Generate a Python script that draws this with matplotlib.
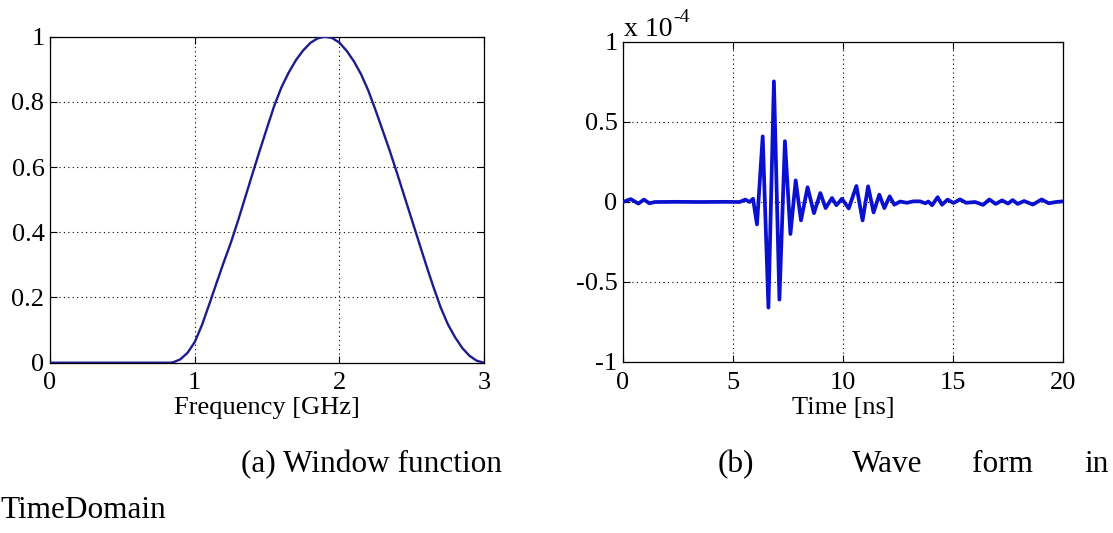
import matplotlib
matplotlib.use('Agg')
import matplotlib.pyplot as plt

# ---- data ----
# (a) window function
freq_ghz = [0.0, 0.5, 0.83, 0.85, 0.9, 0.95, 1.0, 1.05, 1.1, 1.15, 1.2, 1.25, 1.3,
            1.35, 1.4, 1.45, 1.5, 1.55, 1.6, 1.65, 1.7, 1.75, 1.8, 1.85, 1.9,
            1.95, 2.0, 2.05, 2.1, 2.15, 2.2, 2.25, 2.3, 2.35, 2.4, 2.45, 2.5,
            2.55, 2.6, 2.65, 2.7, 2.75, 2.8, 2.85, 2.9, 2.95, 3.0]
window = [0.0, 0.0, 0.0, 0.001, 0.01, 0.03, 0.063, 0.115, 0.178, 0.243, 0.307, 0.368, 0.436,
          0.508, 0.58, 0.651, 0.72, 0.788, 0.845, 0.89, 0.928, 0.958, 0.981, 0.995, 1.0,
          0.996, 0.982, 0.957, 0.925, 0.885, 0.835, 0.775, 0.712, 0.648, 0.58, 0.51, 0.44,
          0.37, 0.3, 0.233, 0.17, 0.118, 0.078, 0.045, 0.021, 0.006, 0.0]

# (b) wave form in time domain (amplitude in units of 1e-4)
time_ns = [0.0, 0.35, 0.7, 0.95, 1.2, 1.45, 2.5, 3.5, 4.5, 5.3, 5.56, 5.75, 5.91,
           6.09, 6.35, 6.61, 6.86, 7.11, 7.36, 7.61, 7.85, 8.09, 8.39, 8.68,
           8.97, 9.21, 9.5, 9.7, 9.95, 10.26, 10.61, 10.89, 11.14, 11.39, 11.65,
           11.88, 12.12, 12.33, 12.6, 12.9, 13.2, 13.5, 13.74, 13.88, 14.05, 14.3,
           14.5, 14.75, 15.02, 15.32, 15.6, 16.0, 16.37, 16.65, 16.94, 17.23,
           17.5, 17.71, 17.94, 18.23, 18.63, 19.03, 19.35, 19.68, 20.0]
wave_e4 = [0.0, 0.018, -0.01, 0.015, -0.008, 0.0, 0.001, 0.0, 0.001, 0.0, 0.015, 0.0, 0.02,
           -0.14, 0.41, -0.66, 0.754, -0.61, 0.38, -0.20, 0.135, -0.115, 0.092, -0.07,
           0.056, -0.038, 0.025, -0.02, 0.02, -0.04, 0.10, -0.115, 0.098, -0.065, 0.046,
           -0.038, 0.035, -0.017, 0.003, -0.005, 0.004, 0.004, -0.008, 0.003, -0.02, 0.03,
           -0.017, 0.015, -0.006, 0.016, -0.005, 0.0, -0.018, 0.016, -0.012, 0.01,
           -0.01, 0.012, -0.012, 0.006, -0.016, 0.016, -0.008, 0.0, 0.004]

win_xticks = [0, 1, 2, 3]
win_yticks = [0, 0.2, 0.4, 0.6, 0.8, 1]
win_yticklabels = ['0', '0.2', '0.4', '0.6', '0.8', '1']
wave_xticks = [0, 5, 10, 15, 20]
wave_yticks = [-1, -0.5, 0, 0.5, 1]
wave_yticklabels = ['-1', '-0.5', '0', '0.5', '1']

plt.rcParams['font.family'] = ['Liberation Serif', 'DejaVu Serif']
plt.rcParams['axes.unicode_minus'] = False

W, H = 1113, 533
fig = plt.figure(figsize=(W / 100, H / 100), dpi=100)


def px_rect(x0, y0, x1, y1):
    # pixel box (top-left origin) -> figure fraction rect
    return [x0 / W, 1 - y1 / H, (x1 - x0) / W, (y1 - y0) / H]


def style_axes(ax):
    ax.tick_params(direction='in', top=True, right=True, length=5, width=0.8,
                   labelsize=19, colors='black')
    ax.tick_params(axis='x', pad=7)
    ax.tick_params(axis='y', pad=4)
    ax.grid(True, linestyle=(0, (1, 3)), color='black', linewidth=0.8)
    for s in ax.spines.values():
        s.set_linewidth(0.9)
        s.set_color('black')


ax1 = fig.add_axes(px_rect(50, 36.7, 484, 362.7))
ax1.plot(freq_ghz, window, color='#1c1c8c', linewidth=1.7, zorder=3)
ax1.set_xlim(0, 3)
ax1.set_ylim(0, 1)
ax1.set_xticks(win_xticks)
ax1.set_yticks(win_yticks, win_yticklabels)
style_axes(ax1)
ax1.set_xlabel('Frequency [GHz]', fontsize=19)
ax1.xaxis.label.set_va('center')
ax1.xaxis.set_label_coords(0.5, (362.7 - 408) / 326)

ax2 = fig.add_axes(px_rect(623, 42, 1063, 362))
ax2.plot(time_ns, wave_e4, color='#0a10d0', linewidth=2.7, zorder=3,
         solid_joinstyle='round')
ax2.set_xlim(0, 20)
ax2.set_ylim(-1, 1)
ax2.set_xticks(wave_xticks)
ax2.set_yticks(wave_yticks, wave_yticklabels)
style_axes(ax2)
ax2.set_xlabel('Time [ns]', fontsize=19)
ax2.xaxis.label.set_va('center')
ax2.xaxis.set_label_coords(0.5, (362 - 408) / 320)
# MATLAB style exponent label above the y axis
fig.text(624 / W, 1 - 36 / H, 'x 10', fontsize=20, ha='left', va='baseline')
fig.text(673 / W, 1 - 22 / H, '-4', fontsize=14, ha='left', va='baseline')

# captions (justified text of the source document)
cap = dict(fontsize=22.5, va='baseline', ha='left')
fig.text(241 / W, 1 - 472 / H, '(a) Window function', **cap)
fig.text(718 / W, 1 - 472 / H, '(b)', **cap)
fig.text(852 / W, 1 - 472 / H, 'Wave', **cap)
fig.text(972 / W, 1 - 472 / H, 'form', **cap)
fig.text(1084 / W, 1 - 472 / H, 'in', **cap)
fig.text(0 / W, 1 - 518 / H, 'TimeDomain', **cap)

fig.savefig('out.png', dpi=100)
